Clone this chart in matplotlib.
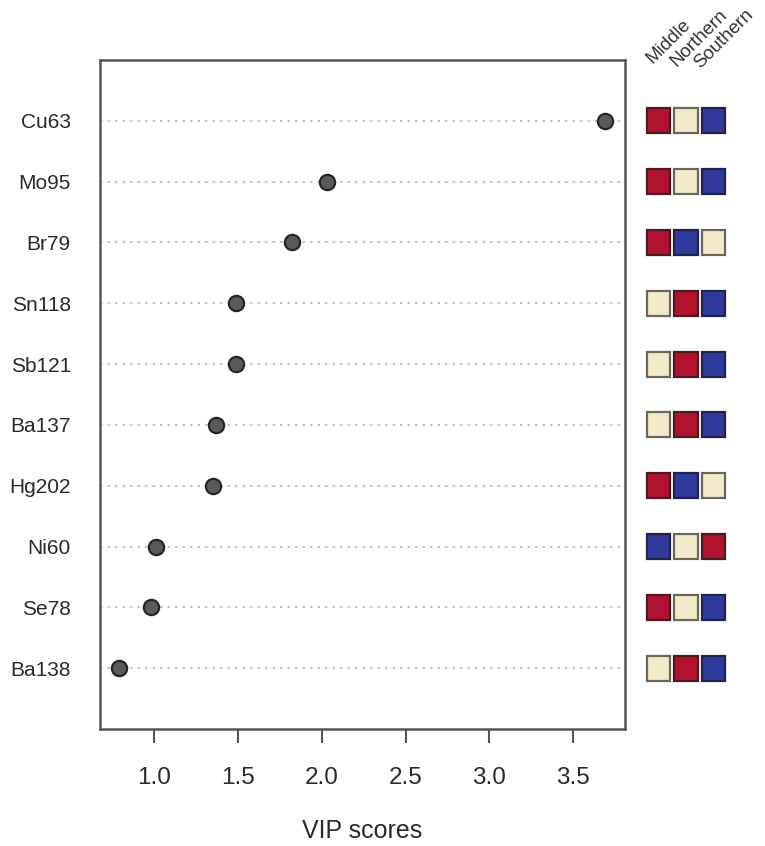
import numpy as np
import matplotlib
matplotlib.use("Agg")
import matplotlib.pyplot as plt

plt.rcParams['font.family'] = ['Liberation Sans', 'DejaVu Sans']

""" DATA """
elements = ["Cu63", "Mo95", "Br79", "Sn118", "Sb121", "Ba137", "Hg202", "Ni60", "Se78", "Ba138"]
vip = [3.69, 2.03, 1.82, 1.49, 1.49, 1.37, 1.35, 1.01, 0.98, 0.79]
regions = ["Middle", "Northern", "Southern"]
# relative level per region: 3 = high (red), 2 = mid (cream), 1 = low (blue)
middle = [3, 3, 3, 2, 2, 2, 3, 1, 3, 2]
northern = [2, 2, 1, 3, 3, 3, 1, 2, 2, 3]
southern = [1, 1, 2, 1, 1, 1, 2, 3, 1, 1]
xticks = [1.0, 1.5, 2.0, 2.5, 3.0, 3.5]

level_colors = {1: "#2f3a9c", 2: "#f3eacb", 3: "#b2112f"}
edge_colors = {1: "#22224a", 2: "#6a665a", 3: "#4a1a22"}

""" FIGURE """
W, H = 765, 846
fig = plt.figure(figsize=(W / 100, H / 100), dpi=100)

def px_axes(x0, x1, y0, y1):
    return fig.add_axes([x0 / W, 1 - y1 / H, (x1 - x0) / W, (y1 - y0) / H])

ax = px_axes(100, 625, 60, 729)
n = len(elements)
ypos = np.arange(n, 0, -1)

for y in ypos:
    ax.axhline(y, color="#b8b8b8", lw=1.2, ls=(0, (1.5, 3)), zorder=1)
ax.plot(vip, ypos, "o", ms=11, mfc="#5a5a5a", mec="#262626", mew=1.6, zorder=3)

ax.set_xlim(0.675, 3.81)
ax.set_ylim(0, n + 1)
ax.set_yticks(ypos)
ax.set_yticklabels(elements, fontsize=15, color="#2a2a2a")
ax.tick_params(axis="y", length=0, pad=21)
ax.set_xticks(xticks)
ax.set_xticklabels([f"{t:.1f}" for t in xticks], fontsize=17.5, color="#2a2a2a")
ax.tick_params(axis="x", length=10, width=1.5, color="#555555", pad=17)
for s in ax.spines.values():
    s.set_color("#555555")
    s.set_linewidth(1.8)

# x label placed by hand near the bottom edge, as in the original
fig.text((100 + 625) / 2 / W, 1 - 838 / H, "VIP scores", ha="center", va="baseline",
         fontsize=18, color="#2a2a2a")

# region heat strip
hx = px_axes(645, 727, 60, 729)
hx.set_xlim(0, 3)
hx.set_ylim(0, n + 1)
hx.axis("off")
for j, col in enumerate([middle, northern, southern]):
    for y, lev in zip(ypos, col):
        hx.add_patch(plt.Rectangle((j + 0.07, y - 0.205), 0.86, 0.41,
                                   facecolor=level_colors[lev], edgecolor=edge_colors[lev], lw=1.6))

# rotated column headers
hdr_x = [653, 676, 700]
hdr_y = [64, 67, 69]
for r, x, y in zip(regions, hdr_x, hdr_y):
    fig.text(x / W, 1 - y / H, r, rotation=45, rotation_mode="anchor",
             ha="left", va="baseline", fontsize=13.5, color="#333333")

plt.savefig("out.png", dpi=100)
